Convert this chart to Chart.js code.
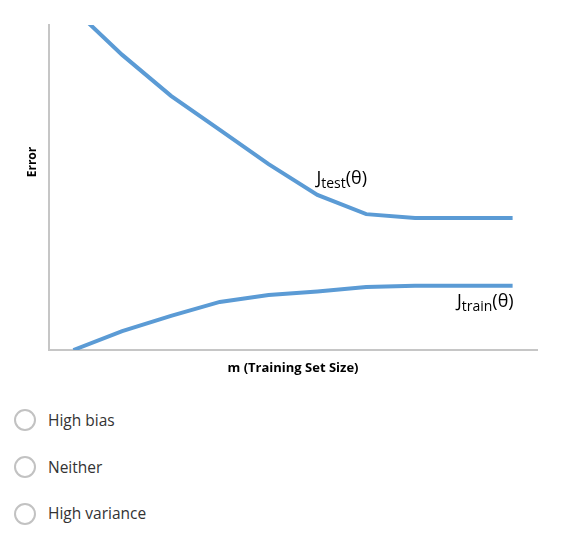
<!DOCTYPE html>
<html>
<head>
<meta charset="utf-8">
<script src="https://cdn.jsdelivr.net/npm/chart.js@4"></script>
<style>
  html, body { margin: 0; padding: 0; background: #fff; }
  body { width: 563px; height: 538px; position: relative; overflow: hidden; font-family: "Open Sans", sans-serif; }
  #wrap { position: absolute; left: 0; top: 0; width: 563px; height: 390px; }
  .opt { position: absolute; left: 0; height: 24px; }
  .opt .circ { position: absolute; left: 14px; width: 18px; height: 18px; border: 2px solid #c2c2c2; border-radius: 50%; box-sizing: content-box; }
  .opt .lbl { position: absolute; left: 48px; font-size: 15.5px; line-height: 20px; color: #333333; white-space: nowrap; }
</style>
</head>
<body>
<div id="wrap"><canvas id="c"></canvas></div>
<div class="opt" style="top:0"><div class="circ" style="top:409px"></div><div class="lbl" style="top:410px">High bias</div></div>
<div class="opt" style="top:0"><div class="circ" style="top:456px"></div><div class="lbl" style="top:457px">Neither</div></div>
<div class="opt" style="top:0"><div class="circ" style="top:503px"></div><div class="lbl" style="top:503px">High variance</div></div>
<script>
// training set size steps (category axis, ticks hidden)
const mSizes = ['1','2','3','4','5','6','7','8','9','10'];
// error values
const jTest  = [105, 90.8, 78.2, 67.7, 57.2, 47.7, 41.8, 40.6, 40.6, 40.6];
const jTrain = [0, 5.8, 10.5, 14.8, 16.9, 18.0, 19.4, 19.8, 19.8, 19.8];
const yMin = 0, yMax = 100;

const lineColor = '#5b9bd5';
const axisColor = '#c6c6c6';

const labelPlugin = {
  id: 'curveLabels',
  afterDraw(chart) {
    const ctx = chart.ctx;
    const xs = chart.scales.x, ys = chart.scales.y;
    const area = chart.chartArea;
    ctx.save();
    ctx.fillStyle = '#000';
    ctx.textBaseline = 'alphabetic';
    const big = '18px "Open Sans"';
    const small = '14px "Open Sans"';
    function drawLabel(sub, x, baseY, alignRight) {
      ctx.font = big; const wJ = ctx.measureText('J').width;
      const wP = ctx.measureText('(θ)').width;
      ctx.font = small; const wS = ctx.measureText(sub).width;
      let x0 = alignRight ? x - (wJ + wS + wP) : x;
      ctx.font = big; ctx.textAlign = 'left';
      ctx.fillText('J', x0, baseY);
      ctx.font = small; ctx.fillText(sub, x0 + wJ, baseY + 4);
      ctx.font = big; ctx.fillText('(θ)', x0 + wJ + wS, baseY);
    }
    // J_test label near point index 5
    drawLabel('test', xs.getPixelForValue(5) - 1, ys.getPixelForValue(jTest[5]) - 11, false);
    // J_train label, right aligned with the end of the curve
    drawLabel('train', xs.getPixelForValue(9) + 1, ys.getPixelForValue(jTrain[9]) + 21, true);

    // axis titles
    ctx.font = 'bold 13px "Open Sans"';
    ctx.textAlign = 'center';
    ctx.textBaseline = 'middle';
    ctx.fillText('m (Training Set Size)', (area.left + area.right) / 2, area.bottom + 18);
    ctx.translate(33, 162);
    ctx.rotate(-Math.PI / 2);
    ctx.font = 'bold 12px "Open Sans"';
    ctx.fillText('Error', 0, 0);
    ctx.restore();
  }
};

new Chart(document.getElementById('c'), {
  type: 'line',
  data: {
    labels: mSizes,
    datasets: [
      { label: 'J_test', data: jTest, borderColor: lineColor, borderWidth: 4, pointRadius: 0, tension: 0, fill: false, clip: {left: 0, top: 0, right: 5, bottom: 0}, borderCapStyle: 'butt' },
      { label: 'J_train', data: jTrain, borderColor: lineColor, borderWidth: 4, pointRadius: 0, tension: 0, fill: false, clip: {left: 0, top: 0, right: 5, bottom: 0}, borderCapStyle: 'butt' }
    ]
  },
  options: {
    responsive: true,
    maintainAspectRatio: false,
    animation: false,
    events: [],
    layout: { padding: { left: 49, top: 25, right: 26, bottom: 40 } },
    plugins: { legend: { display: false }, tooltip: { enabled: false }, title: { display: false } },
    scales: {
      x: {
        type: 'category',
        offset: true,
        grid: { display: false, drawTicks: false },
        ticks: { display: false },
        border: { display: true, color: axisColor, width: 2 }
      },
      y: {
        min: yMin, max: yMax,
        grid: { display: false, drawTicks: false },
        ticks: { display: false },
        border: { display: true, color: axisColor, width: 2 }
      }
    }
  },
  plugins: [labelPlugin]
});
</script>
</body>
</html>
